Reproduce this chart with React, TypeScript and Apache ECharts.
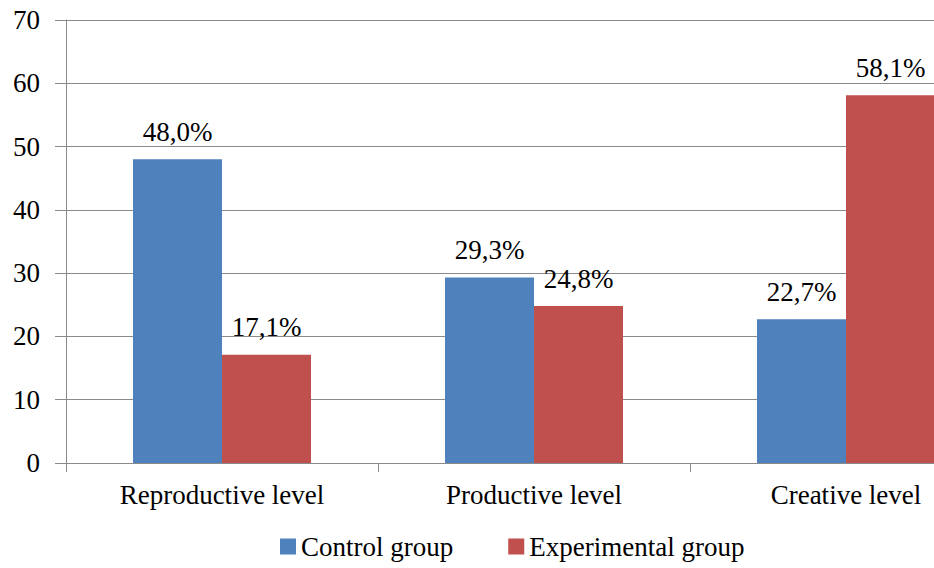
import React, { useEffect, useRef } from "react";
import * as echarts from "echarts";

const categories = ["Reproductive level", "Productive level", "Creative level"];
const controlValues = [48.0, 29.3, 22.7];
const experimentalValues = [17.1, 24.8, 58.1];
const seriesNames = ["Control group", "Experimental group"];
const yTicks = { min: 0, max: 70, interval: 10 };

const FONT = "Liberation Serif, Times New Roman, serif";
const fmt = (v: number) => v.toFixed(1).replace(".", ",") + "%";

export default function App() {
  const ref = useRef<HTMLDivElement>(null);
  useEffect(() => {
    if (!ref.current) return;
    const chart = echarts.init(ref.current, null, { renderer: "svg" });
    const labelCfg = {
      show: true,
      position: "top" as const,
      distance: 14,
      color: "#000",
      fontFamily: FONT,
      fontSize: 27,
      formatter: (p: any) => fmt(p.value),
    };
    chart.setOption({
      animation: false,
      backgroundColor: "#fff",
      textStyle: { fontFamily: FONT },
      grid: { left: 66, width: 936, top: 20, bottom: 105, containLabel: false },
      legend: {
        data: seriesNames,
        left: 275,
        top: 528,
        icon: "rect",
        itemWidth: 16,
        itemHeight: 16,
        itemGap: 55,
        textStyle: { fontFamily: FONT, fontSize: 27, color: "#000" },
      },
      xAxis: {
        type: "category",
        data: categories,
        axisLine: { show: true, lineStyle: { color: "#898989", width: 1 } },
        axisTick: { show: true, length: 9, lineStyle: { color: "#898989" } },
        axisLabel: { color: "#000", fontFamily: FONT, fontSize: 27, margin: 18 },
      },
      yAxis: {
        type: "value",
        min: yTicks.min,
        max: yTicks.max,
        interval: yTicks.interval,
        axisLine: { show: true, lineStyle: { color: "#898989", width: 1 } },
        axisTick: { show: true, length: 11, lineStyle: { color: "#898989" } },
        splitLine: { show: true, lineStyle: { color: "#898989", width: 1 } },
        axisLabel: { color: "#000", fontFamily: FONT, fontSize: 27, margin: 26 },
      },
      series: [
        {
          name: seriesNames[0],
          type: "bar",
          data: controlValues,
          barWidth: 89,
          barGap: "0%",
          itemStyle: { color: "#4F81BD" },
          label: labelCfg,
        },
        {
          name: seriesNames[1],
          type: "bar",
          data: experimentalValues,
          barWidth: 89,
          barGap: "0%",
          itemStyle: { color: "#C0504D" },
          label: labelCfg,
        },
      ],
    });
    return () => chart.dispose();
  }, []);
  return (
    <div
      style={{ position: "absolute", left: 0, top: 0, width: 934, height: 568, overflow: "hidden", background: "#fff" }}
    >
      <div ref={ref} style={{ position: "absolute", left: 0, top: 0, width: 1020, height: 568 }} />
    </div>
  );
}
